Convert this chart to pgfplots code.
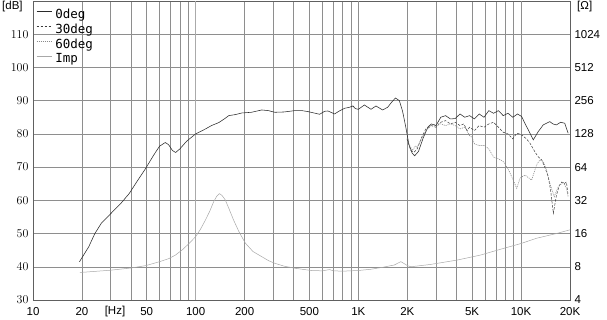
\documentclass[border=0pt]{standalone}
\usepackage{fontspec}
\setmainfont{Liberation Sans}
\newfontfamily\legfont{DejaVu Sans Mono}
\usepackage{pgfplots}
\pgfplotsset{compat=1.18}
\definecolor{gridc}{HTML}{8E8E8E}
\definecolor{decc}{HTML}{505050}
\definecolor{bordc}{HTML}{606060}
\definecolor{c0}{HTML}{2A2A2A}
\definecolor{c30}{HTML}{3A3A3A}
\definecolor{c60}{HTML}{8A8A8A}
\definecolor{cimp}{HTML}{A8A8A8}
\begin{document}
\begin{tikzpicture}[x=1pt,y=1pt]
\begin{axis}[
  at={(33pt,20pt)}, anchor=south west,
  scale only axis, width=537pt, height=299pt,
  xmode=log, xmin=10, xmax=20000, ymin=30, ymax=120,
  xtick={10,20,30,40,50,60,70,80,90,100,200,300,400,500,600,700,800,900,1000,2000,3000,4000,5000,6000,7000,8000,9000,10000,20000},
  xticklabels={10,20,,,50,,,,,100,200,,,500,,,,,1K,2K,,,5K,,,,,10K,20K},
  extra x ticks={1000,10000},
  extra x tick labels={,},
  extra x tick style={grid style={decc, line width=0.5pt}},
  ytick={30,40,50,60,70,80,90,100,110},
  xmajorgrids, ymajorgrids,
  major grid style={gridc, line width=0.45pt},
  major tick length=0pt,
  axis line style={bordc, line width=0.5pt},
  tick label style={font=\fontsize{11.5}{13}\selectfont},
  xticklabel style={yshift=-4pt},
  yticklabel style={xshift=-1pt},
  legend style={draw=none, fill=none, at={(0,1)}, anchor=north west,
    xshift=3pt, yshift=-8pt, inner sep=0pt, row sep=2.2pt,
    font=\legfont\fontsize{12.5}{14}\selectfont,
    nodes={inner sep=0.5pt, text height=9pt, text depth=2.5pt}},
  legend cell align=left,
  legend image code/.code={\draw[#1] (1pt,3.7pt) -- (16pt,3.7pt); \path (19pt,3.7pt);},
]
\draw[gridc!75, line width=1.3pt] (axis cs:100,30) -- (axis cs:100,120);
\addplot[c0, line width=0.55pt] coordinates {
(19.3,41.5)(22,46)(24,50)(26.3,53.1)(30.2,56.1)(35,59.3)(39.1,62.1)(44,66)(49.4,69.7)(55,73.5)(60,76.3)(65,77.4)(68,76.8)(72,75)(75.3,74.4)(80,75.5)(88,77.8)(100,80.0)(115,81.5)(125,82.5)(138.6,83.4)(150,84.5)(159.7,85.5)(175,85.8)(192.5,86.3)(220,86.5)(254.8,87.2)(280,87.0)(307,86.5)(350,86.6)(407,87.0)(450,87.0)(491,86.7)(578,85.9)(620,86.8)(650,86.9)(714,86.0)(770,87.0)(822,87.7)(880,88.0)(925,88.4)(960,87.6)(1000,87.4)(1089,88.7)(1196,87.4)(1283,88.4)(1409,87.2)(1513,88.0)(1600,89.5)(1690,90.8)(1787,90.0)(1870,86.8)(1956,82.1)(2046,76.8)(2141,74.2)(2218,73.4)(2341,74.7)(2509,78.9)(2681,82.1)(2809,83.0)(3000,82.5)(3211,85.0)(3437,85.5)(3679,84.5)(3937,84.6)(4214,86.0)(4510,85.0)(4828,85.5)(5167,84.5)(5531,86.0)(5920,85.0)(6336,87.0)(6782,86.2)(7259,87.0)(7770,85.5)(8316,86.2)(8901,85.0)(9527,86.0)(10094,85.2)(10600,83.0)(11087,81.2)(11893,78.2)(12760,80.7)(13685,82.7)(15027,83.7)(15700,83.0)(16497,82.7)(17500,83.5)(18564,83.2)(19475,80.2)
};
\addlegendentry{0deg}
\addplot[c30, line width=0.5pt, dash pattern=on 2.5pt off 1.5pt] coordinates {
(1990,78.5)(2100,75.0)(2200,74.5)(2300,75.5)(2450,79.0)(2600,81.5)(2800,82.5)(3000,82.0)(3211,83.5)(3437,84.0)(3679,83.0)(3937,83.5)(4214,82.5)(4450,83.0)(4664,81.0)(4828,82.0)(5167,81.0)(5531,82.5)(5920,82.0)(6336,83.0)(6782,83.5)(7259,82.0)(7770,80.5)(8316,80.0)(8901,78.5)(9400,80.2)(9800,80.0)(10200,79.5)(10800,78.5)(11348,77.2)(12200,74.5)(12800,73.0)(13379,72.2)(14000,70.0)(14687,67.1)(15200,63.0)(15800,56.1)(16500,61.5)(17200,64.5)(17800,65.5)(18400,65.0)(19013,65.5)(19475,61.5)
};
\addlegendentry{30deg}
\addplot[c60, line width=0.6pt, dash pattern=on 1pt off 1pt] coordinates {
(2040,77.0)(2150,75.0)(2238,76.3)(2300,76.0)(2450,78.5)(2600,81.0)(2800,82.5)(3000,83.0)(3211,83.0)(3437,82.5)(3700,83.0)(3937,82.5)(4214,81.5)(4510,82.0)(4828,79.5)(5000,79.0)(5167,77.0)(5531,76.5)(5920,76.5)(6336,75.5)(6782,73.0)(7259,72.5)(7770,71.7)(8316,69.5)(8771,67.1)(9409,63.6)(9860,66.7)(10578,67.6)(11618,66.1)(12464,70.7)(13060,72.2)(13685,71.7)(14341,69.2)(15027,65.1)(16000,61.1)(16897,64.0)(18135,65.5)(19013,63.6)(19475,61.1)
};
\addlegendentry{60deg}
\addlegendimage{cimp, line width=0.5pt}
\addlegendentry{Imp}
\end{axis}
\begin{axis}[
  at={(33pt,20pt)}, anchor=south west,
  scale only axis, width=537pt, height=299pt,
  xmode=log, xmin=10, xmax=20000,
  ymode=log, log basis y=2, ymin=4, ymax=2048,
  hide x axis,
  axis y line*=right,
  ytick={4,8,16,32,64,128,256,512,1024},
  yticklabels={4,8,16,32,64,128,256,512,1024},
  major tick length=0pt,
  axis line style={bordc, line width=0.5pt},
  tick label style={font=\fontsize{11.5}{13}\selectfont},
  yticklabel style={xshift=1pt},
]
\addplot[cimp, line width=0.5pt] coordinates {
(19.4,7.1)(25,7.3)(30,7.45)(40,7.8)(49.4,8.2)(60,8.9)(68.5,9.5)(75,10.2)(82.8,11.4)(90,12.8)(100,15.0)(107,17.5)(114.8,21.2)(122,25.5)(129,31.1)(135,35.0)(140,36.8)(145,35.5)(152,32.3)(160,27.0)(171,21.2)(185,16.5)(202,13.1)(225,11.0)(255,9.87)(280,9.1)(307,8.6)(350,8.1)(407,7.76)(514,7.4)(600,7.35)(666,7.55)(700,7.35)(800,7.3)(1000,7.4)(1196,7.6)(1400,7.9)(1661,8.3)(1823,8.9)(1900,8.6)(2000,8.2)(2100,8.0)(2778,8.4)(4046,9.2)(5614,10.2)(7430,11.5)(10000,13.0)(12450,14.5)(16480,16.0)(20000,17.3)
};
\end{axis}
\node[anchor=west, inner sep=0pt, font=\fontsize{11.5}{13}\selectfont] at (2,313) {[dB]};
\node[anchor=west, inner sep=0pt, font=\fontsize{11.5}{13}\selectfont] at (577,313) {[Ω]};
\node[anchor=center, inner sep=0pt, font=\fontsize{11.5}{13}\selectfont] at (115,8) {[Hz]};
\pgfresetboundingbox
\path[use as bounding box] (0,0) rectangle (607,320);
\end{tikzpicture}
\end{document}
